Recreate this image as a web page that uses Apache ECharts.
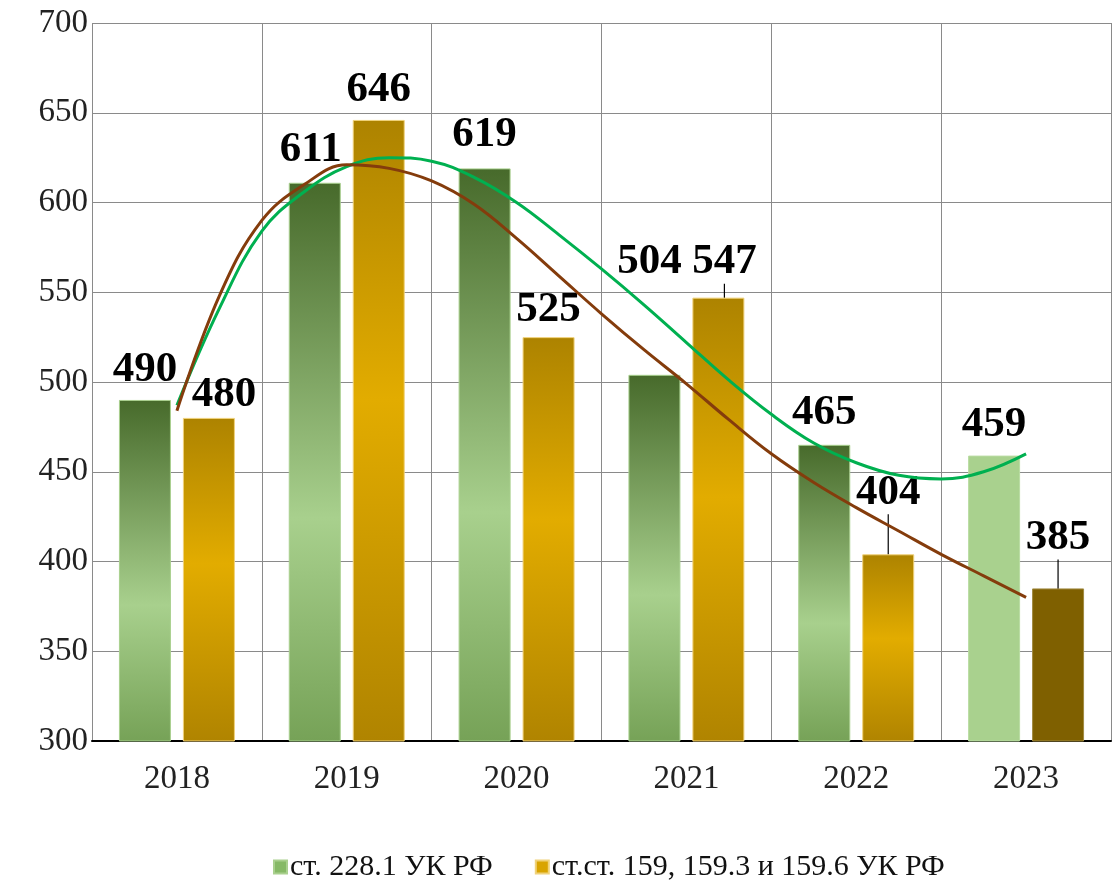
<!DOCTYPE html>
<html><head><meta charset="utf-8">
<script src="https://cdn.jsdelivr.net/npm/echarts@6/dist/echarts.min.js"></script>
<style>html,body{margin:0;padding:0;background:#fff}#c{width:1112px;height:883px}</style>
</head><body><div id="c"></div>
<script>
var years = ['2018', '2019', '2020', '2021', '2022', '2023'];
var seriesNames = ['ст. 228.1 УК РФ', 'ст.ст. 159, 159.3 и 159.6 УК РФ'];
var drugs = [490, 611, 619, 504, 465, 459];
var fraud = [480, 646, 525, 547, 404, 385];
var trendX = [0, 0.25, 0.5, 0.75, 1, 1.25, 1.5, 1.75, 2, 2.25, 2.5, 2.75, 3, 3.25, 3.5, 3.75, 4, 4.25, 4.5, 4.75, 5];
var drugsTrend = [487, 541, 584, 606, 620, 625, 623, 614, 600, 582, 563, 543, 522, 501, 482, 466, 455, 448, 446, 450, 460];
var fraudTrend = [484, 548, 590, 610, 621, 619, 612, 599, 580, 559, 538, 518, 499, 479, 460, 444, 430, 417, 404, 392, 380];
var yTicks = [300, 350, 400, 450, 500, 550, 600, 650, 700];

// label placement tweaks (pixels) and leader lines
var drugsLabelShift = [[0,0],[-4,-2],[0,-3],[-5,-82],[0,-1],[0,0]];
var fraudLabelShift = [[15,7],[0,0],[0,3],[6,-5],[0,-31],[0,-20]];
var fraudLeader = [false,false,false,true,true,true];

var G = echarts.graphic;
function greenGrad(){return new G.LinearGradient(0,0,0,1,[{offset:0,color:'#476a2b'},{offset:0.6,color:'#a8d08d'},{offset:1,color:'#76a257'}]);}
function orangeGrad(){return new G.LinearGradient(0,0,0,1,[{offset:0,color:'#ad8300'},{offset:0.45,color:'#e2ac00'},{offset:1,color:'#b08400'}]);}

var drugsData = drugs.map(function(v,i){
  var o = {value:v};
  if (i === 5) o.itemStyle = {color:'#a9d18e', borderColor:'#b9dca2'};
  return o;
});
var fraudData = fraud.map(function(v,i){
  var o = {value:v};
  if (i === 5) o.itemStyle = {color:'#7f6000', borderColor:'#a08a40'};
  if (fraudLeader[i]) o.labelLine = {show:true, lineStyle:{color:'#000', width:1.2}};
  return o;
});
function pairs(xs, ys){return xs.map(function(x,i){return [x, ys[i]];});}

var labelStyle = {show:true, position:'top', distance:9, fontFamily:'Liberation Serif', fontWeight:'bold', fontSize:43, color:'#000'};

var chart = echarts.init(document.getElementById('c'), null, {renderer:'canvas'});
chart.setOption({
  animation:false,
  backgroundColor:'#fff',
  grid:{left:92, right:1, top:23, bottom:142, containLabel:false},
  legend:{
    data:[{name:seriesNames[0], itemStyle:{color:'#86b966'}},{name:seriesNames[1], itemStyle:{color:'#d9a400'}}],
    left:268, top:847, itemWidth:13, itemHeight:13, itemGap:42, icon:'rect',
    textStyle:{fontFamily:'Liberation Serif', fontSize:30, color:'#111', padding:[0,0,0,-2]}
  },
  xAxis:[
    {type:'category', data:years, boundaryGap:true,
     axisLine:{show:true, lineStyle:{color:'#000', width:2}},
     axisTick:{show:false},
     axisLabel:{fontFamily:'Liberation Serif', fontSize:33, color:'#222', margin:22},
     splitLine:{show:true, interval:0, lineStyle:{color:'#8a8a8a', width:1}}},
    {type:'value', min:-0.5, max:5.5, show:false}
  ],
  yAxis:{type:'value', min:yTicks[0], max:yTicks[yTicks.length-1], interval:50,
    axisLine:{show:false}, axisTick:{show:false},
    axisLabel:{fontFamily:'Liberation Serif', fontSize:33, color:'#222', margin:4},
    splitLine:{show:true, lineStyle:{color:'#8a8a8a', width:1}}},
  series:[
    {name:seriesNames[0], type:'bar', xAxisIndex:0, data:drugsData, barWidth:52, barGap:'23%',
     itemStyle:{color:greenGrad(), borderColor:'#a9d08e', borderWidth:1},
     label:labelStyle,
     labelLayout:function(p){var s=drugsLabelShift[p.dataIndex];return {dx:s[0], dy:s[1]};},
     z:2},
    {name:seriesNames[1], type:'bar', xAxisIndex:0, data:fraudData, barWidth:52,
     itemStyle:{color:orangeGrad(), borderColor:'#f0d27a', borderWidth:1},
     label:labelStyle,
     labelLine:{show:false},
     labelLayout:function(p){var s=fraudLabelShift[p.dataIndex];return {dx:s[0], dy:s[1]};},
     z:2},
    {name:'trend1', type:'line', xAxisIndex:1, data:pairs(trendX, drugsTrend), smooth:0.4,
     showSymbol:false, symbol:'none', lineStyle:{color:'#00b050', width:3}, z:5, silent:true},
    {name:'trend2', type:'line', xAxisIndex:1, data:pairs(trendX, fraudTrend), smooth:0.4,
     showSymbol:false, symbol:'none', lineStyle:{color:'#843c0c', width:3}, z:5, silent:true}
  ]
});
</script></body></html>
